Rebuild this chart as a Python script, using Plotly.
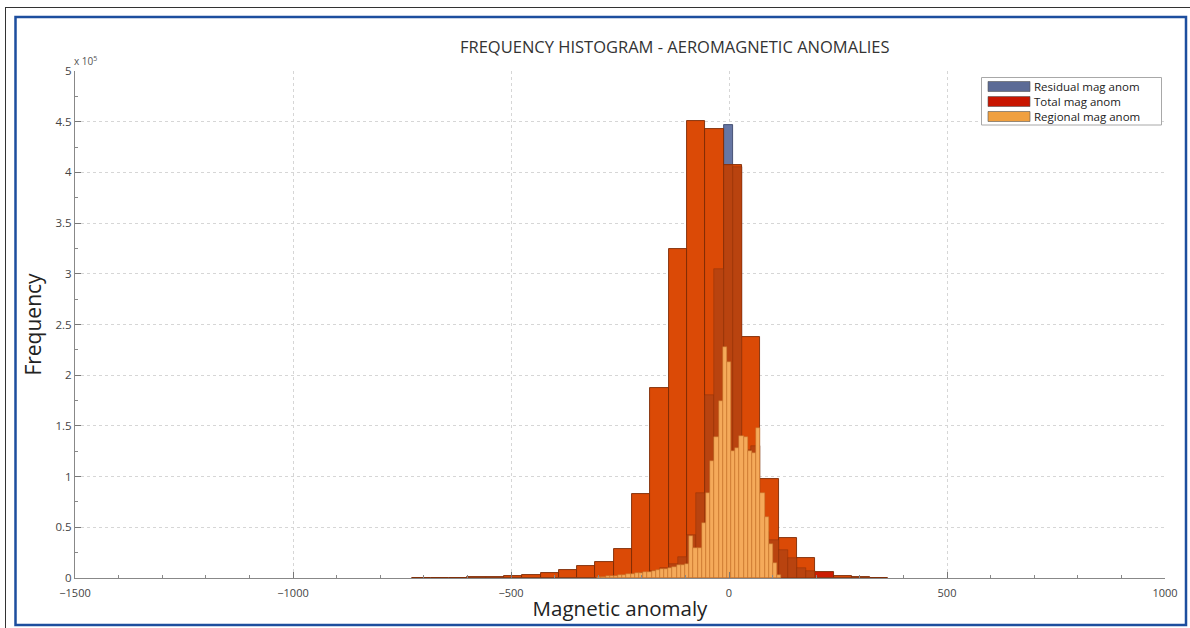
import plotly.graph_objects as go

# ---- histogram data (counts in units of 1e5) ----
# Total magnetic anomaly: 42-unit bins starting at -726.3
total_start = -726.3
total_bin = 42.0
total_counts = [0.001, 0.002, 0.003, 0.005, 0.010, 0.015, 0.03, 0.05, 0.08, 0.115,
                0.16, 0.29, 0.83, 1.87, 3.24, 4.51, 4.43, 4.07, 2.38, 0.98,
                0.395, 0.197, 0.062, 0.02, 0.01, 0.004]

# Residual magnetic anomaly: 21-unit bins starting at -222.3
residual_start = -222.3
residual_bin = 21.0
residual_counts = [0.03, 0.05, 0.07, 0.10, 0.14, 0.21, 0.42, 0.84, 1.80, 3.05,
                   4.47, 4.05, 1.26, 1.30, 0.45, 0.37, 0.28, 0.20, 0.10, 0.07]

# Regional magnetic anomaly: 9.6-unit bins starting at -302.4
regional_start = -302.4
regional_bin = 9.6
regional_counts = [0.010, 0.012, 0.015, 0.018, 0.022, 0.026, 0.030, 0.035, 0.040, 0.045,
                   0.050, 0.056, 0.062, 0.069, 0.076, 0.084, 0.093, 0.102, 0.112, 0.125,
                   0.13, 0.14, 0.41, 0.30, 0.30, 0.54, 0.84, 1.15, 1.39, 1.75,
                   2.28, 2.13, 1.25, 1.28, 1.40, 1.39, 1.25, 1.23, 1.48, 0.84,
                   0.60, 0.34, 0.15, 0.03]

series_names = ["Residual mag anom", "Total mag anom", "Regional mag anom"]
x_ticks = [-1500, -1000, -500, 0, 500, 1000]
y_ticks = [0, 0.5, 1, 1.5, 2, 2.5, 3, 3.5, 4, 4.5, 5]


def centers(start, width, n):
    return [start + width * (i + 0.5) for i in range(n)]


# ---- styling ----
C_RESIDUAL = "#6676A3"
C_TOTAL = "#DB4A06"
C_TOTAL_RED = "#CC1C02"
C_OVERLAP = "#B9430F"
C_REGIONAL = "#F5AA5A"
LEGEND_COLORS = ["#5C6B96", "#C81500", "#F0A040"]
FONT = "Open Sans"

# one Total bin is rendered in the plain series red
total_colors = [C_TOTAL] * len(total_counts)
total_colors[22] = C_TOTAL_RED

# residual bins are aligned with the total bins (two per total bin)
first_total_idx = round((residual_start - total_start) / total_bin)
overlap_counts = [min(r, total_counts[first_total_idx + j // 2])
                  for j, r in enumerate(residual_counts)]

fig = go.Figure()

fig.add_trace(go.Bar(
    x=centers(residual_start, residual_bin, len(residual_counts)), y=residual_counts,
    width=residual_bin, name=series_names[0], showlegend=False,
    marker=dict(color=C_RESIDUAL, line=dict(color="#2F3A60", width=0.8))))

fig.add_trace(go.Bar(
    x=centers(total_start, total_bin, len(total_counts)), y=total_counts,
    width=total_bin, name=series_names[1], showlegend=False,
    marker=dict(color=total_colors, line=dict(color="#7E2A05", width=0.9))))

fig.add_trace(go.Bar(
    x=centers(residual_start, residual_bin, len(overlap_counts)), y=overlap_counts,
    width=residual_bin, showlegend=False, hoverinfo="skip",
    marker=dict(color=C_OVERLAP, line=dict(color="#8E3308", width=0.5))))

fig.add_trace(go.Bar(
    x=centers(regional_start, regional_bin, len(regional_counts)), y=regional_counts,
    width=regional_bin, name=series_names[2], showlegend=False,
    marker=dict(color=C_REGIONAL, line=dict(color="#C0702A", width=0.5))))

# plot area in pixels
PL, PR, PT, PB = 75, 1165, 71, 578


def px_x(p):
    return (p - PL) / (PR - PL)


def px_y(p):
    return (PB - p) / (PB - PT)


shapes = [
    # outer frame lines
    dict(type="line", xref="paper", yref="paper", x0=px_x(5), x1=px_x(1192),
         y0=px_y(7.5), y1=px_y(7.5), line=dict(color="#333", width=1)),
    dict(type="line", xref="paper", yref="paper", x0=px_x(5.5), x1=px_x(5.5),
         y0=px_y(7.5), y1=px_y(630), line=dict(color="#333", width=1)),
    # blue panel border
    dict(type="rect", xref="paper", yref="paper", x0=px_x(15.5), x1=px_x(1186),
         y0=px_y(17), y1=px_y(625), line=dict(color="#1D4E9E", width=2.5)),
    # legend box
    dict(type="rect", xref="paper", yref="paper", x0=px_x(981.5), x1=px_x(1161.5),
         y0=px_y(77.5), y1=px_y(125), fillcolor="white",
         line=dict(color="#A8A8A8", width=1)),
]
annotations = []
row_y = [86.5, 101.5, 116.5]
for name, col, yy in zip(series_names, LEGEND_COLORS, row_y):
    shapes.append(dict(type="rect", xref="paper", yref="paper",
                       x0=px_x(988), x1=px_x(1030), y0=px_y(yy - 5), y1=px_y(yy + 5),
                       fillcolor=col, line=dict(color="#555", width=0.6)))
    annotations.append(dict(xref="paper", yref="paper", x=px_x(1032), y=px_y(yy),
                            xanchor="left", yanchor="middle", showarrow=False,
                            text=name, font=dict(family=FONT, size=11.5, color="#222")))

annotations += [
    dict(xref="paper", yref="paper", x=px_x(675), y=px_y(47), xanchor="center",
         yanchor="middle", showarrow=False,
         text="FREQUENCY HISTOGRAM - AEROMAGNETIC ANOMALIES",
         font=dict(family=FONT, size=16.5, color="#333")),
    dict(xref="paper", yref="paper", x=px_x(72), y=px_y(61), xanchor="left",
         yanchor="middle", showarrow=False, text="x 10<sup>5</sup>",
         font=dict(family=FONT, size=10, color="#555")),
]

fig.update_layout(
    width=1190, height=628,
    margin=dict(l=PL, r=1190 - PR, t=PT, b=628 - PB),
    paper_bgcolor="white", plot_bgcolor="white",
    barmode="overlay", bargap=0,
    showlegend=False,
    shapes=shapes, annotations=annotations,
    font=dict(family=FONT, color="#444"),
)

fig.update_xaxes(
    range=[-1500, 1000], tickvals=x_ticks, ticks="inside", ticklen=6,
    tickcolor="#777", showline=True, linecolor="#888", linewidth=1,
    showgrid=True, gridcolor="#D6D6D6", griddash="dot", gridwidth=1,
    zeroline=False, tickfont=dict(size=11, color="#444"), ticklabelstandoff=5,
    minor=dict(dtick=100, ticks="inside", ticklen=3, tickcolor="#888", showgrid=False),
    title=dict(text="Magnetic anomaly", font=dict(family=FONT, size=20.5, color="#222"),
               standoff=2),
)
fig.update_yaxes(
    range=[0, 5], tickvals=y_ticks, ticks="inside", ticklen=6,
    tickcolor="#777", showline=True, linecolor="#888", linewidth=1,
    showgrid=True, gridcolor="#D6D6D6", griddash="dot", gridwidth=1,
    zeroline=False, tickfont=dict(size=11.5, color="#444"),
    minor=dict(dtick=0.25, ticks="inside", ticklen=3, tickcolor="#888", showgrid=False),
    title=dict(text="Frequency", font=dict(family=FONT, size=21, color="#222"),
               standoff=8),
)

fig.write_html("out.html", config={"displayModeBar": False})
